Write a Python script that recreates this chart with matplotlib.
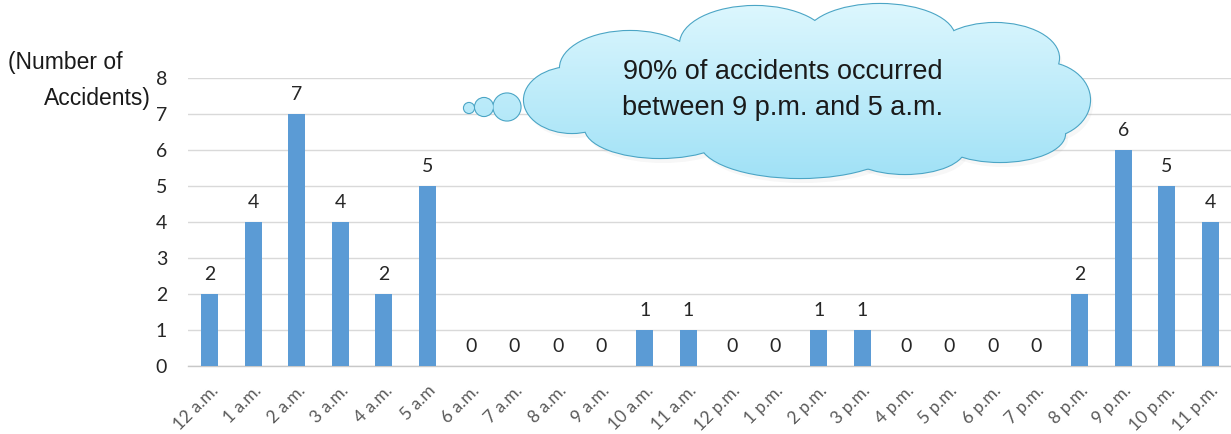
import numpy as np
import matplotlib
matplotlib.use("Agg")
import matplotlib.pyplot as plt
from matplotlib.patches import Ellipse

hours = ["12 a.m.", "1 a.m.", "2 a.m.", "3 a.m.", "4 a.m.", "5 a.m",
         "6 a.m.", "7 a.m.", "8 a.m.", "9 a.m.", "10 a.m.", "11 a.m.",
         "12 p.m.", "1 p.m.", "2 p.m.", "3 p.m.", "4 p.m.", "5 p.m.",
         "6 p.m.", "7 p.m.", "8 p.m.", "9 p.m.", "10 p.m.", "11 p.m."]
accidents = [2, 4, 7, 4, 2, 5, 0, 0, 0, 0, 1, 1,
             0, 0, 1, 1, 0, 0, 0, 0, 2, 6, 5, 4]
y_ticks = [0, 1, 2, 3, 4, 5, 6, 7, 8]
note = "90% of accidents occurred\nbetween 9 p.m. and 5 a.m."

W, H = 1231, 434
fig = plt.figure(figsize=(W / 100, H / 100), dpi=100)
fig.patch.set_facecolor("white")

ax = fig.add_axes([188 / W, 68 / H, 1044 / W, 288 / H])
x = np.arange(len(hours))
ax.bar(x, accidents, width=0.39, color="#5b9bd5", zorder=3)
ax.set_xlim(-0.5, len(hours) - 0.5)
ax.set_ylim(0, 8)
ax.set_yticks(y_ticks)
ax.yaxis.grid(True, color="#d9d9d9", linewidth=1.0, zorder=0)
for s in ["top", "right", "left"]:
    ax.spines[s].set_visible(False)
ax.spines["bottom"].set_color("#c8c8c8")
ax.spines["bottom"].set_linewidth(1.0)
ax.tick_params(axis="y", length=0, pad=15, labelsize=14, labelcolor="#262626")
for lab in ax.get_yticklabels():
    lab.set_fontfamily("Lato")
ax.set_xticks(x)
ax.set_xticklabels(hours, rotation=45, ha="right", rotation_mode="anchor",
                   fontsize=12.5, color="#595959", family="Lato")
ax.tick_params(axis="x", length=0, pad=12)

for xi, v in zip(x, accidents):
    ax.annotate(str(v), (xi, v), xytext=(0, 8), textcoords="offset points",
                ha="center", va="bottom", fontsize=14, color="#262626",
                family="Lato")

# axis caption
fig.text(8 / W, 1 - 62 / H, "(Number of", ha="left", va="center",
         fontsize=16.5, color="#1a1a1a", family="Liberation Sans")
fig.text(151 / W, 1 - 99 / H, "Accidents)", ha="right", va="center",
         fontsize=16.5, color="#1a1a1a", family="Liberation Sans")

# thought cloud overlay in pixel coordinates
ov = fig.add_axes([0, 0, 1, 1], zorder=10)
ov.set_xlim(0, W)
ov.set_ylim(H, 0)
ov.axis("off")
ov.patch.set_alpha(0)

lobes = [
    (572, 100, 96, 66),
    (630, 68, 140, 74),
    (755, 44, 150, 76),
    (880, 38, 150, 68),
    (995, 58, 128, 70),
    (1042, 100, 96, 76),
    (1000, 134, 130, 56),
    (905, 148, 120, 52),
    (800, 142, 200, 72),
    (660, 128, 150, 60),
]
filler = (805, 92, 430, 120)
bubbles = [(469, 108, 10, 10), (484, 107, 18, 18), (507, 107, 27, 27)]

edge = "#4ba5c5"
top_c = np.array([0.87, 0.97, 0.995])
bot_c = np.array([0.62, 0.88, 0.965])
gy = np.linspace(0, 1, 200)[:, None]
grad = top_c[None, None, :] * (1 - gy[..., None]) + bot_c[None, None, :] * gy[..., None]
grad = np.repeat(grad, 2, axis=1)
ext = (440, 1100, 185, 0)

# soft shadow
for (cx, cy, w, h) in lobes + [filler]:
    ov.add_patch(Ellipse((cx + 3, cy + 5), w, h, facecolor="#9a9a9a",
                         alpha=0.08, edgecolor="none", zorder=1))

shapes = lobes + bubbles
for (cx, cy, w, h) in shapes:
    ov.add_patch(Ellipse((cx, cy), w, h, facecolor=bot_c, edgecolor=edge,
                         linewidth=1.6, zorder=2))
for (cx, cy, w, h) in shapes + [filler]:
    e = Ellipse((cx, cy), w, h, facecolor="none", edgecolor="none")
    ov.add_patch(e)
    im = ov.imshow(grad, extent=ext, aspect="auto", zorder=3,
                   interpolation="bilinear")
    im.set_clip_path(e)
ov.set_xlim(0, W)
ov.set_ylim(H, 0)

ov.text(783, 90, note, ha="center", va="center", fontsize=19.5,
        color="#1a1a1a", family="Liberation Sans", linespacing=1.5,
        zorder=5)

fig.savefig("out.png", dpi=100, facecolor="white")
